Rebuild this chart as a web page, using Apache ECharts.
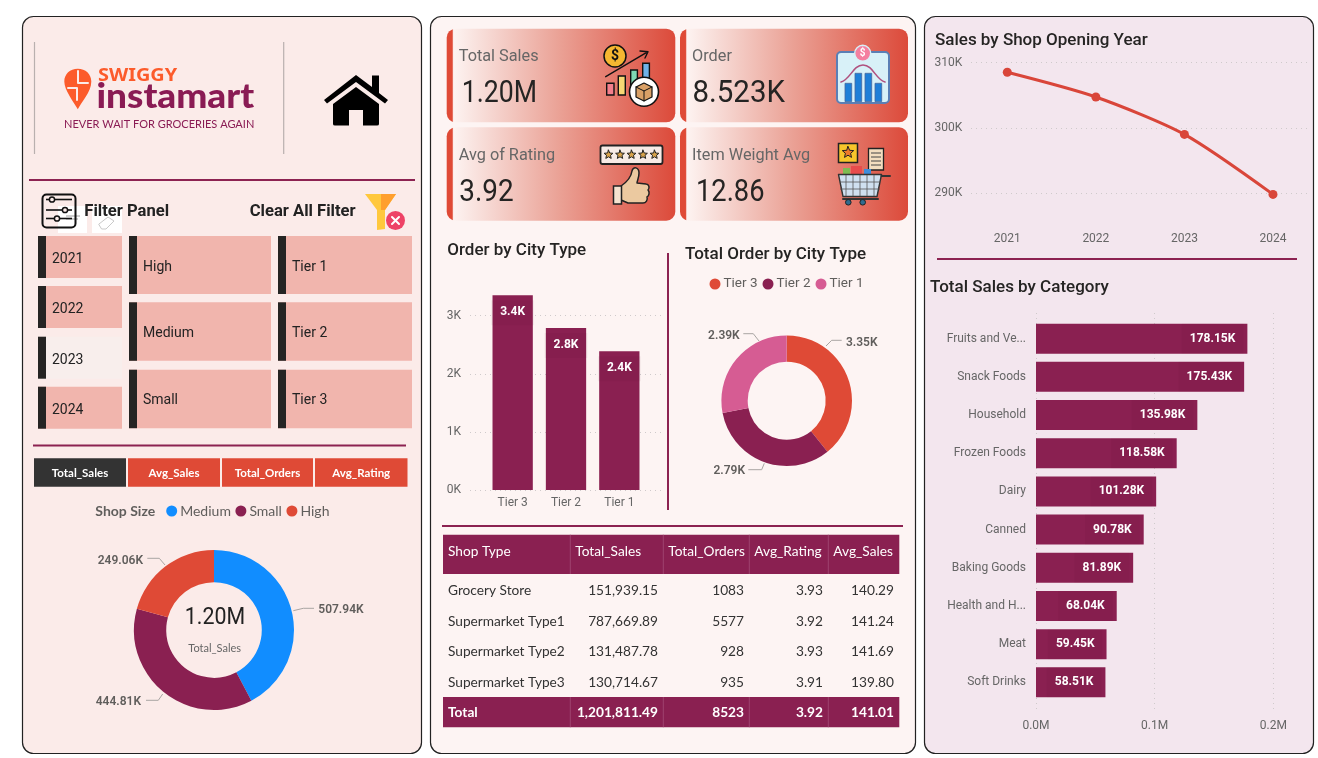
<!DOCTYPE html>
<html><head><meta charset="utf-8">
<style>html,body{margin:0;padding:0;background:#fff}#c{width:1318px;height:758px}</style>
<script src="https://cdn.jsdelivr.net/npm/echarts@6/dist/echarts.min.js"></script>
</head><body><div id="c"></div>
<script>
// ---------- data ----------
const shopSizes = ['Medium','Small','High'];
const shopSizeSales = [507940,444810,249060];
const cityTypes = ['Tier 3','Tier 2','Tier 1'];
const cityOrders = [3350,2790,2390];
const years = ['2021','2022','2023','2024'];
const yearSales = [308530,304740,299000,289800];
const categories = ['Fruits and Ve...','Snack Foods','Household','Frozen Foods','Dairy','Canned','Baking Goods','Health and H...','Meat','Soft Drinks'];
const categorySales = [178150,175430,135980,118580,101280,90780,81890,68040,59450,58510];
const tableHeaders = ['Shop Type','Total_Sales','Total_Orders','Avg_Rating','Avg_Sales'];
const tableRows = [
 ['Grocery Store','151,939.15','1083','3.93','140.29'],
 ['Supermarket Type1','787,669.89','5577','3.92','141.24'],
 ['Supermarket Type2','131,487.78','928','3.93','141.69'],
 ['Supermarket Type3','130,714.67','935','3.91','139.80']];
const tableTotal = ['Total','1,201,811.49','8523','3.92','141.01'];
const kpis = [['Total Sales','1.20M'],['Order','8.523K'],['Avg of Rating','3.92'],['Item Weight Avg','12.86']];
const metricTabs = ['Total_Sales','Avg_Sales','Total_Orders','Avg_Rating'];
const yearSlicer = ['2021','2022','2023','2024'];
const sizeSlicer = ['High','Medium','Small'];
const tierSlicer = ['Tier 1','Tier 2','Tier 3'];

// ---------- style ----------
const DIN='Roboto', SEG='Lato';
const PLUM='#8A2051', RED='#DF4A36', PINK='#D65C93', BLUE='#118DFF', SALMON='#F1B5AD', DARK='#252423';
const G=[];
let pathId=0;
const rect=(x,y,w,h,fill,o={})=>G.push({type:'rect',z:-1,silent:true,shape:{x,y,width:w,height:h,r:o.r||0},style:{fill,stroke:o.stroke||null,lineWidth:o.lw||1}});
const circ=(cx,cy,r,fill,o={})=>G.push({type:'circle',z:-1,silent:true,shape:{cx,cy,r},style:{fill,stroke:o.stroke||null,lineWidth:o.lw||1}});
const line=(x1,y1,x2,y2,stroke,lw=1)=>G.push({type:'line',z:-1,silent:true,shape:{x1,y1,x2,y2},style:{stroke,lineWidth:lw}});
const path=(d,fill,o={})=>{const n='svgp'+(pathId++);echarts.graphic.registerShape(n,echarts.graphic.extendPath(d));
  G.push({type:n,z:-1,silent:true,style:{fill:fill||'none',stroke:o.stroke||null,lineWidth:o.lw||1,lineJoin:'round',lineCap:'round'}});};
const txt=(text,x,y,font,fill,align='left',sx=1)=>G.push({type:'text',z:-1,silent:true,x,y:y+1,scaleX:sx,style:{text,x:0,y:0,font,fill,align,verticalAlign:'middle',textAlign:align,textVerticalAlign:'middle'}});
const star=(cx,cy,r,fill,stroke)=>{let d='';for(let i=0;i<10;i++){const a=-Math.PI/2+i*Math.PI/5,q=i%2?r*0.45:r;d+=(i?'L':'M')+(cx+q*Math.cos(a)).toFixed(1)+' '+(cy+q*Math.sin(a)).toFixed(1)+' ';}path(d+'Z',fill,{stroke,lw:1});};

// ---------- panels ----------
rect(22.5,16.5,399,737,'#FBEBE9',{r:11,stroke:'#222',lw:1.2});
rect(430.5,16.5,485,737,'#FDF4F3',{r:11,stroke:'#222',lw:1.2});
rect(924.5,16.5,389,737,'#F3E6EE',{r:11,stroke:'#222',lw:1.2});

// ---------- logo ----------
line(34.5,42,34.5,154,'#B9B0AF',1.2); line(283.7,42,283.7,154,'#B9B0AF',1.2);
path('M77.8 68.7 C70 68.7 64.3 74 64.3 81.5 C64.3 90 73.5 102 77.8 109.3 C81.5 102 91.3 92 91.3 81.5 C91.3 74 85.5 68.7 77.8 68.7 Z','#FC5B2B');
path('M78 71 L78 83 L88 83 M68 88 L77 88 L77 100','none',{stroke:'#FBEBE9',lw:2});
txt('SWIGGY',98,75,'700 17px "Noto Sans"','#FC5B2B','left',1.17);
txt('instamart',96.5,96,'900 35px Lato','#8A1B54','left',1.055);
txt('NEVER WAIT FOR GROCERIES AGAIN',64,123,'400 11px Lato','#8A1B54');
path('M356 75 L372 87 L372 75.5 L379 75.5 L379 93 L388 100 L385 103.5 L356 82 L327 103.5 L324 100 Z','#000');
path('M356 87 L379 104 L379 124 Q379 125.5 377 125.5 L363 125.5 L363 110 L349 110 L349 125.5 L335 125.5 Q333 125.5 333 124 L333 104 Z','#000');

// ---------- filter panel ----------
line(29,180,415,180,'#8C2251',2);
rect(58,206,29,27,'#FFFFFF'); rect(92,206,30,27,'#FFFFFF');
line(66,216,80,216,'#888',0.8); line(66,219,78,219,'#888',0.8);
path('M99 224 L108 217 L114 221 L106 229 L102 229 Z','none',{stroke:'#C9C9C9',lw:1});
rect(42.5,194.5,33,33,'none',{r:4,stroke:'#111',lw:2});
[[199.5,52],[210,65],[218.5,57]].forEach(([y,x])=>{line(46,y,72,y,'#111',1.6);circ(x,y,2.6,'#FBEBE9',{stroke:'#111',lw:1.5});});
txt('Filter Panel',84.3,210.5,'700 16.6px '+DIN,'#222');
txt('Clear All Filter',249.7,210.5,'700 16.6px '+DIN,'#222');
path('M365 194 L396 194 L385 210 L385 229 L377 230 L377 210 Z','#FFC83D');
path('M381 194 L396 194 L385 210 L381 210 Z','#FF9F2E');
circ(395.5,220.5,9.5,'#EE4266'); path('M392 217 L399 224 M399 217 L392 224','none',{stroke:'#fff',lw:2});

const slicer=(labels,x,w,rows,tx,dy)=>labels.forEach((t,i)=>{const [y,h]=rows[i],sel=t==='2023';
  rect(x,y,w,h,sel?'#F8EEEC':SALMON); rect(x,y,8,h,DARK); txt(t,tx,y+h/2+dy+(rows.length==3&&i==0?0.5:0),'400 14px '+DIN,'#222');});
slicer(yearSlicer,38,84,[[236,42],[286,42],[336.7,42],[386.7,42]],52,1.5);
slicer(sizeSlicer,129,142,[[236,58],[302.3,58.5],[369.7,58.5]],143,1);
slicer(tierSlicer,278,134,[[236,58],[302.3,58.5],[369.7,58.5]],292,1);

line(33,445.5,406,445.5,'#8C2251',2);
[[34,92],[128,92],[222,91],[315,92.5]].forEach(([x,w],i)=>{rect(x,458.3,w,28.4,i==0?'#333333':RED);txt(metricTabs[i],x+w/2,472,'700 11.5px '+SEG,'#fff','center');});
txt('Shop Size',95.3,510,'700 14px '+SEG,'#605E5C');
txt('1.20M',215,617.7,'400 23px '+DIN,'#222','center',0.93);
txt('Total_Sales',214.7,647,'400 11px '+SEG,'#666','center');

// ---------- KPI cards ----------
const cardFill={type:'linear',x:0,y:0,x2:1,y2:0,colorStops:[{offset:0,color:RED},{offset:0.024,color:RED},{offset:0.03,color:'#FDF3F1'},{offset:0.12,color:'#F9E3DF'},{offset:0.5,color:'#EAA094'},{offset:1,color:'#DC4A3A'}]};
const valueScale=[0.86,0.95,0.9,0.88];
[[446.7,28.7,228.6,93.6],[680,28.7,228,93.6],[446.7,127.3,228.6,93.4],[680,127.3,228,93.4]].forEach(([x,y,w,h],i)=>{
  rect(x,y,w,h,cardFill,{r:9});
  const k=kpis[i], tx=x+13;
  txt(k[0],tx-1,y+27.3,'400 16.3px '+DIN,'#666');
  txt(k[1],tx+(i==3?3:i==0?2:-0.5),y+64.5,'400 31px '+DIN,'#252423','left',valueScale[i]);
});
// icon 1
circ(615,56,11,'#F5B731',{stroke:'#111',lw:1.5}); txt('$',615,55,'700 14px '+DIN,'#111','center');
path('M605.7 76.7 L648 51.7 M640 51 L648 51.7 L645 58','none',{stroke:'#111',lw:1.4});
[[606.7,83.3,7.3,11.7,'#F47F8C'],[618.3,76,7,19,'#F7D774'],[630.7,70,6.7,20,'#7ED9B4'],[642.7,63.3,6.7,20,'#6FB2E8']].forEach(b=>rect(b[0],b[1],b[2],b[3],b[4],{stroke:'#111',lw:1.4}));
circ(644,91.7,14.5,'#fff',{stroke:'#111',lw:1.6}); path('M636 87 L644 83 L652 87 L652 97 L644 101 L636 97 Z','#D9A066',{stroke:'#111',lw:1.2}); path('M636 87 L644 91 L652 87 M644 91 L644 101','none',{stroke:'#111',lw:1});
// icon 2
rect(837,52,52,51,'#D8F1F8',{r:4,stroke:'#5B7FB5',lw:2});
[[845,83.3,18.3],[855,73.3,28.3],[865,73.3,28.3],[875,83.3,18.3]].forEach(b=>rect(b[0],b[1],6.7,b[2],'#1E7FD8',{stroke:'#45689E',lw:0.8}));
path('M841 82 C850 80 853 65 863 65 C873 65 876 80 885 82','none',{stroke:'#B0517F',lw:1.6});
circ(862.7,53.3,8,'#F47FA0',{stroke:'#D8F1F8',lw:1.4}); txt('$',862.7,52.3,'700 10px '+DIN,'#fff','center');
// icon 3
rect(600.5,145.5,62,18.5,'#F7EBE6',{r:2,stroke:'#222',lw:1.8});
[0,1,2,3,4].forEach(i=>star(608.5+i*11.5,154.7,4.6,'#D9A34A','#222'));
path('M621 186 C627 182 631 178 632 171 C633 166 639 167 639 173 C639 178 637 181 637 183 L646 184 C649 184 650 188 648 190 C650 192 649 196 647 197 C648 200 646 203 643 203 L628 203 L621 200 Z','#EBC9A0',{stroke:'#222',lw:1.5});
rect(613.5,186,8,18,'#F5E3D0',{stroke:'#222',lw:1.5});
// icon 4
rect(838.5,143.5,19,19,'#F7C52B',{stroke:'#222',lw:1.5}); star(848,152.5,6,'#EE7A2B','#222');
rect(868.5,148.5,15,21.5,'#F2DDBF',{stroke:'#222',lw:1.3}); [153,157,161,165].forEach(y=>line(871,y,881,y,'#444',1));
rect(843,168,7,7,'#7DBB52'); rect(851,166,11,9,'#E84C4C'); rect(864,169,7,6,'#3E8DDB');
path('M838.5 174.5 L881.5 174.5 L877 196.5 L843 196.5 Z','#CFE0F0',{stroke:'#333',lw:1.4});
[846,853,860,867,874].forEach(x=>line(x,175,x,196,'#555',0.8)); [182,189].forEach(y=>line(840,y,880,y,'#555',0.8));
path('M881.5 176 L890 176 M843 199 L878 199','none',{stroke:'#333',lw:2});
circ(848.3,202.3,2.8,'#2F6B8F',{stroke:'#222'}); circ(862.7,202.3,2.8,'#2F6B8F',{stroke:'#222'});

// ---------- centre titles, divider ----------
txt('Order by City Type',447.3,249.5,'500 17px '+DIN,'#252423');
txt('Total Order by City Type',685,253.5,'500 17px '+DIN,'#252423');
line(668,253,668,510,'#8C2251',2);
line(442,526,903,526,'#8C2251',2);

// ---------- table ----------
const colX=[443,570.3,663.3,749.3,828.3,899.3];
rect(443,534.7,456.3,39.3,PLUM); rect(443,697,456.3,30.3,PLUM);
colX.slice(1,5).forEach(x=>{line(x,534.7,x,574,'#A54C76',0.8);line(x,697,x,727.3,'#A54C76',0.8);});
const rightX=[448,658,744,823,894];
tableHeaders.forEach((t,i)=>txt(t,i==0?448:colX[i]+5,550.5,'400 13.7px '+SEG,'#fff'));
const rowY=[589.5,620.5,650.5,681.5];
tableRows.forEach((r,j)=>r.forEach((t,i)=>txt(t,rightX[i],rowY[j],'400 13.7px '+SEG,'#333',i==0?'left':'right')));
tableTotal.forEach((t,i)=>txt(t,rightX[i],712,'700 13.7px '+SEG,'#fff',i==0?'left':'right'));

// ---------- right titles ----------
txt('Sales by Shop Opening Year',935,40,'500 17px '+DIN,'#252423');
line(937,259,1297,259,'#8C2251',2);
txt('Total Sales by Category',930,286.5,'500 17px '+DIN,'#252423');

// ---------- helpers for charts ----------
const dotted={color:'#CFCACB',type:[1,4],width:1};
const gridMark=(dim,vals,a,b)=>({silent:true,symbol:'none',animation:false,z:1,label:{show:false},emphasis:{disabled:true},lineStyle:dotted,
  data:vals.map(v=>dim==='y'?[{x:a,yAxis:v},{x:b,yAxis:v}]:[{xAxis:v,y:a},{xAxis:v,y:b}])});
const axisText={color:'#666',fontSize:12,fontFamily:DIN};
const placed=(layouts)=>(p=>{const l=layouts[p.dataIndex];return {x:l.x,y:l.y+1,align:l.a,verticalAlign:'middle',labelLinePoints:l.pts};});
const pieBase=(name,center,radius,names,vals,colors,fmt,layouts)=>({type:'pie',name,center,radius,startAngle:90,clockwise:true,
  data:names.map((n,i)=>({name:n,value:vals[i],itemStyle:{color:colors[i]}})),
  label:{show:true,position:'outside',formatter:fmt,color:'#605E5C',fontSize:12,fontWeight:600,fontFamily:DIN},
  labelLine:{show:true,lineStyle:{color:'#A9A5A3',width:1},smooth:false},labelLayout:placed(layouts),
  emphasis:{disabled:true},silent:true});

const option={
 animation:false,backgroundColor:'#fff',
 grid:[
  {left:1007.3,right:1318-1273,top:62.7,height:195.6},
  {left:486,width:160,top:257.6,height:232.4},
  {left:1036,width:237.3,top:319.6,height:381.8}
 ],
 xAxis:[
  {gridIndex:0,type:'category',boundaryGap:false,data:years,axisLine:{show:false},axisTick:{show:false},axisLabel:{...axisText,margin:-25,hideOverlap:false,showMinLabel:true,showMaxLabel:true}},
  {gridIndex:1,type:'category',data:cityTypes,axisLine:{show:false},axisTick:{show:false},axisLabel:{...axisText,margin:7}},
  {gridIndex:2,type:'value',min:0,max:200000,interval:100000,splitLine:{show:false},axisLine:{show:false},axisTick:{show:false},
   axisLabel:{...axisText,margin:19,showMinLabel:true,showMaxLabel:true,formatter:v=>(v/1e6).toFixed(1)+'M'}}
 ],
 yAxis:[
  {gridIndex:0,type:'value',min:280000,max:310000,interval:10000,splitLine:{show:false},axisLine:{show:false},axisTick:{show:false},
   axisLabel:{...axisText,margin:45,padding:[6,0,0,0],formatter:v=>v===280000?'':(v/1000)+'K'}},
  {gridIndex:1,type:'value',min:0,max:4000,interval:1000,splitLine:{show:false},axisLine:{show:false},axisTick:{show:false},
   axisLabel:{...axisText,margin:25,padding:[6,0,0,0],formatter:v=>v===4000?'':(v/1000)+'K'}},
  {gridIndex:2,type:'category',data:categories,inverse:true,axisLine:{show:false},axisTick:{show:false},axisLabel:{...axisText,margin:10,padding:[5,0,0,0]}}
 ],
 legend:[
  {data:shopSizes,left:166.2,top:504,padding:0,icon:'circle',itemWidth:11,itemHeight:11,itemGap:4.5,textStyle:{color:'#605E5C',fontSize:14,fontFamily:SEG,padding:[0,0,0,-2]},selectedMode:false},
  {data:cityTypes,left:709.5,top:277,padding:0,icon:'circle',itemWidth:11,itemHeight:11,itemGap:5,textStyle:{color:'#605E5C',fontSize:13.5,fontFamily:DIN,padding:[0,0,0,-2]},selectedMode:false}
 ],
 series:[
  {type:'line',name:'Sales',xAxisIndex:0,yAxisIndex:0,data:yearSales,smooth:0.25,symbol:'circle',symbolSize:9,lineStyle:{color:'#D9463A',width:3},itemStyle:{color:'#D9463A'},silent:true,
   markLine:gridMark('y',[290000,300000,310000],971,1307)},
  {type:'bar',name:'Orders',xAxisIndex:1,yAxisIndex:1,data:cityOrders,barWidth:40.3,itemStyle:{color:PLUM},silent:true,
   label:{show:true,position:'insideTop',distance:5,padding:[6,9,7,9],backgroundColor:'rgba(70,0,35,0.05)',color:'#fff',fontWeight:700,fontSize:12,fontFamily:DIN,formatter:p=>(p.value/1000).toFixed(1)+'K'},
   markLine:gridMark('y',[0,1000,2000,3000],470,662.7)},
  {type:'bar',name:'Category Sales',xAxisIndex:2,yAxisIndex:2,data:categorySales,barWidth:30,itemStyle:{color:PLUM},silent:true,
   label:{show:true,position:'insideRight',distance:4,padding:[10,8,8,8],backgroundColor:'rgba(70,0,35,0.05)',color:'#fff',fontWeight:700,fontSize:12,fontFamily:DIN,formatter:p=>(p.value/1000).toFixed(2)+'K'},
   markLine:gridMark('x',[0,100000,200000],313,710)},
  pieBase('Shop Size',[214,630],[47.8,80],shopSizes,shopSizeSales,[BLUE,PLUM,RED],p=>(p.value/1000).toFixed(2)+'K',[
    {x:318.3,y:608.7,a:'left',pts:[[293.3,610.7],[303.3,608.3],[314,608.3]]},
    {x:141,y:700.7,a:'right',pts:[[162.7,694],[158.3,700.3],[146,700.3]]},
    {x:143,y:560,a:'right',pts:[[165,565],[159.3,558.3],[147.3,558.3]]}]),
  pieBase('City Type',[786.7,400.7],[39,65.3],cityTypes,cityOrders,[RED,PLUM,PINK],p=>(p.value/1000).toFixed(2)+'K',[
    {x:846,y:341.7,a:'left',pts:[[826,346],[831.7,340.3],[841.7,340.3]]},
    {x:745,y:470.3,a:'right',pts:[[764.3,463.3],[761.7,469.7],[748.3,469.7]]},
    {x:739.7,y:334.7,a:'right',pts:[[759,341],[753.3,333.7],[743.3,333.7]]}])
 ],
 graphic:{elements:G}
};
const chart=echarts.init(document.getElementById('c'),null,{renderer:'canvas',width:1318,height:758});
chart.setOption(option);
</script></body></html>
